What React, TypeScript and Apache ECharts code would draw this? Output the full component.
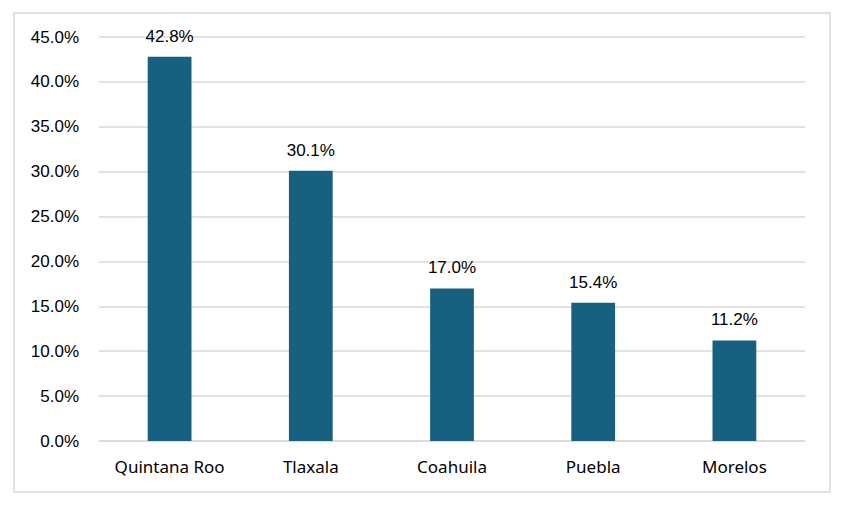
import React, { useEffect, useRef } from "react";
import * as echarts from "echarts";

const categories = ["Quintana Roo", "Tlaxala", "Coahuila", "Puebla", "Morelos"];
const values = [42.8, 30.1, 17.0, 15.4, 11.2];
const yTicks = { min: 0, max: 45, interval: 5 };

export default function App() {
  const ref = useRef<HTMLDivElement>(null);
  useEffect(() => {
    if (!ref.current) return;
    const chart = echarts.init(ref.current, null, { renderer: "svg" });
    chart.setOption({
      animation: false,
      backgroundColor: "#ffffff",
      graphic: [
        {
          type: "rect",
          shape: { x: 14, y: 13, width: 816, height: 479 },
          style: { fill: "none", stroke: "#d9d9d9", lineWidth: 1.5 },
          silent: true,
        },
      ],
      grid: { left: 99, right: 44, top: 37, bottom: 72, containLabel: false },
      xAxis: {
        type: "category",
        data: categories,
        axisLine: { show: true, lineStyle: { color: "#d9d9d9", width: 1.5 } },
        axisTick: { show: false },
        axisLabel: {
          color: "#000",
          fontFamily: "Noto Sans",
          fontSize: 17,
          margin: 17,
          interval: 0,
          hideOverlap: false,
        },
      },
      yAxis: {
        type: "value",
        min: yTicks.min,
        max: yTicks.max,
        interval: yTicks.interval,
        axisLine: { show: false },
        axisTick: { show: false },
        splitLine: { lineStyle: { color: "#d9d9d9", width: 1.5 } },
        axisLabel: {
          color: "#000",
          fontFamily: "Liberation Sans",
          fontSize: 17,
          margin: 20,
          formatter: (v: number) => v.toFixed(1) + "%",
        },
      },
      series: [
        {
          type: "bar",
          data: values,
          barWidth: "31%",
          itemStyle: { color: "#17607f" },
          label: {
            show: true,
            position: "top",
            distance: 12,
            color: "#000",
            fontFamily: "Liberation Sans",
            fontSize: 17,
            formatter: (p: any) => Number(p.value).toFixed(1) + "%",
          },
        },
      ],
    });
    return () => chart.dispose();
  }, []);
  return (
    <div
      ref={ref}
      style={{ position: "fixed", left: 0, top: 0, width: 849, height: 513 }}
    />
  );
}
